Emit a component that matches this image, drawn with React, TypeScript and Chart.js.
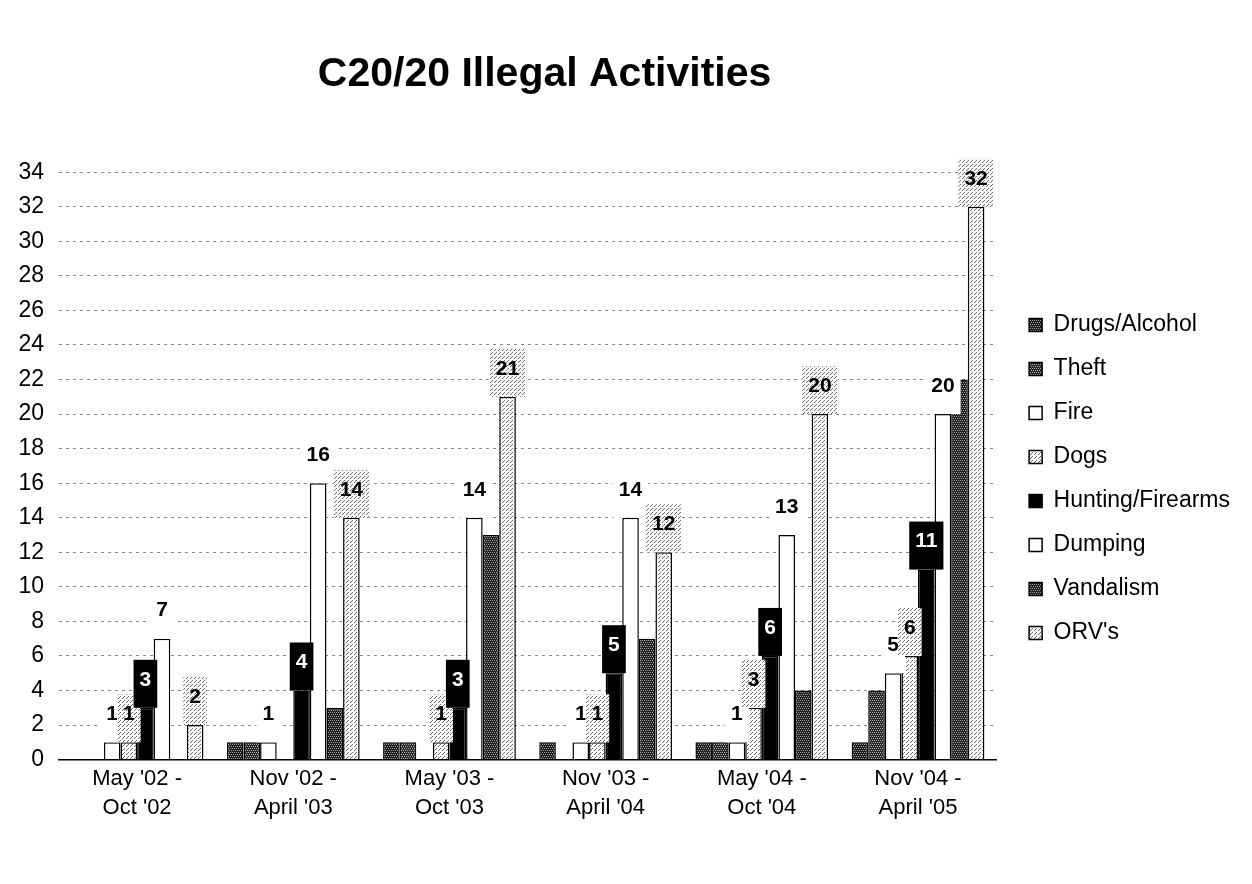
import React, { useEffect, useRef } from "react";
import { Chart, registerables } from "chart.js";

Chart.register(...registerables);

const categories: string[][] = [
  ["May '02 -", "Oct '02"],
  ["Nov '02 -", "April '03"],
  ["May '03 -", "Oct '03"],
  ["Nov '03 -", "April '04"],
  ["May '04 -", "Oct '04"],
  ["Nov '04 -", "April '05"],
];

const drugsAlcohol = [0, 1, 1, 1, 1, 1];
const theft = [0, 1, 1, 0, 1, 4];
const fire = [1, 1, 0, 1, 1, 5];
const dogs = [1, 0, 1, 1, 3, 6];
const huntingFirearms = [3, 4, 3, 5, 6, 11];
const dumping = [7, 16, 14, 14, 13, 20];
const vandalism = [0, 3, 13, 7, 4, 22];
const orvs = [2, 14, 21, 12, 20, 32];

const seriesNames = ["Drugs/Alcohol", "Theft", "Fire", "Dogs", "Hunting/Firearms", "Dumping", "Vandalism", "ORV's"];
const labelledSeries = ["Fire", "Dogs", "Hunting/Firearms", "Dumping", "ORV's"];

const yMin = 0;
const yMax = 34;
const yStep = 2;

const titleText = "C20/20 Illegal Activities";

const FONT = '"Liberation Sans", Arial, Helvetica, sans-serif';

function makePattern(base: string, dot: string, dots: number[][]): CanvasPattern | string {
  const c = document.createElement("canvas");
  c.width = 4;
  c.height = 4;
  const g = c.getContext("2d");
  if (!g) return base;
  g.fillStyle = base;
  g.fillRect(0, 0, 4, 4);
  g.fillStyle = dot;
  dots.forEach(([x, y]) => g.fillRect(x, y, 1, 1));
  const p = g.createPattern(c, "repeat");
  return p || base;
}

export default function App() {
  const canvasRef = useRef<HTMLCanvasElement | null>(null);

  useEffect(() => {
    if (!canvasRef.current) return;
    const darkDots = [[0, 0], [2, 0], [1, 2], [3, 2]];
    const lightDots = [[0, 0], [2, 2], [3, 1]];
    const fills: (CanvasPattern | string)[] = [
      makePattern("#1c1c1c", "#a0a0a0", darkDots),
      makePattern("#262626", "#b0b0b0", darkDots),
      "#ffffff",
      makePattern("#ffffff", "#6a6a6a", lightDots),
      "#000000",
      "#ffffff",
      makePattern("#222222", "#9a9a9a", darkDots),
      makePattern("#f6f6f6", "#707070", lightDots),
    ];
    const values = [drugsAlcohol, theft, fire, dogs, huntingFirearms, dumping, vandalism, orvs];

    const labelPlugin = {
      id: "barLabels",
      afterDatasetsDraw(chart: any) {
        const ctx = chart.ctx as CanvasRenderingContext2D;
        ctx.save();
        ctx.font = `bold 21px ${FONT}`;
        ctx.textAlign = "center";
        ctx.textBaseline = "middle";
        chart.data.datasets.forEach((ds: any, i: number) => {
          if (!labelledSeries.includes(ds.label)) return;
          const meta = chart.getDatasetMeta(i);
          meta.data.forEach((bar: any, j: number) => {
            const v = ds.data[j];
            if (!v) return;
            const txt = String(v);
            const w = ctx.measureText(txt).width + 12;
            const h = 48;
            ctx.fillStyle = ds.backgroundColor;
            ctx.fillRect(bar.x - w / 2, bar.y - h, w, h);
            ctx.fillStyle = ds.label === "Hunting/Firearms" ? "#ffffff" : "#000000";
            ctx.fillText(txt, bar.x, bar.y - 28);
          });
        });
        ctx.restore();
      },
    };

    const shiftPlugin = {
      id: "shiftBoxes",
      afterLayout(chart: any) {
        const lg = chart.legend;
        if (lg) {
          lg.left += 12;
          lg.right += 12;
          lg.top += 13;
          lg.bottom += 13;
        }
        const tb = chart.titleBlock;
        if (tb) {
          tb.left += 17;
          tb.right += 17;
        }
      },
    };

    const chart = new Chart(canvasRef.current, {
      type: "bar",
      data: {
        labels: categories,
        datasets: seriesNames.map((name, i) => ({
          label: name,
          data: values[i],
          backgroundColor: fills[i] as any,
          borderColor: "#000000",
          borderWidth: 1.5,
          barPercentage: 1,
          categoryPercentage: 0.85,
        })),
      },
      options: {
        animation: false,
        responsive: true,
        maintainAspectRatio: false,
        layout: { padding: { left: 8, right: 24, top: 10, bottom: 57 } },
        plugins: {
          title: {
            display: true,
            text: titleText,
            fullSize: false,
            color: "#000000",
            font: { family: FONT, size: 41, weight: "bold", lineHeight: 1.2 },
            padding: { top: 40, bottom: 73 },
          },
          legend: {
            display: true,
            position: "right",
            align: "center",
            fullSize: false,
            labels: {
              color: "#000000",
              font: { family: FONT, size: 23 },
              boxWidth: 13,
              boxHeight: 13,
              padding: 21,
            },
          },
          tooltip: { enabled: false },
        },
        scales: {
          x: {
            grid: { display: false, drawTicks: false },
            border: { display: true, color: "#000000", width: 1.5 },
            ticks: {
              color: "#000000",
              font: { family: FONT, size: 22, lineHeight: 1.35 },
              padding: 4,
              maxRotation: 0,
              autoSkip: false,
            },
          },
          y: {
            min: yMin,
            max: yMax,
            afterFit: (s: any) => {
              s.width = 51;
            },
            grid: { display: true, color: "#8a8a8a", lineWidth: 1, drawTicks: false },
            border: { display: false, dash: [3, 4] },
            ticks: {
              stepSize: yStep,
              color: "#000000",
              font: { family: FONT, size: 23 },
              padding: 15,
            },
          },
        },
      },
      plugins: [labelPlugin, shiftPlugin],
    });

    return () => chart.destroy();
  }, []);

  return (
    <div style={{ position: "fixed", left: 0, top: 0, width: 1252, height: 884, background: "#ffffff" }}>
      <canvas ref={canvasRef} />
    </div>
  );
}
